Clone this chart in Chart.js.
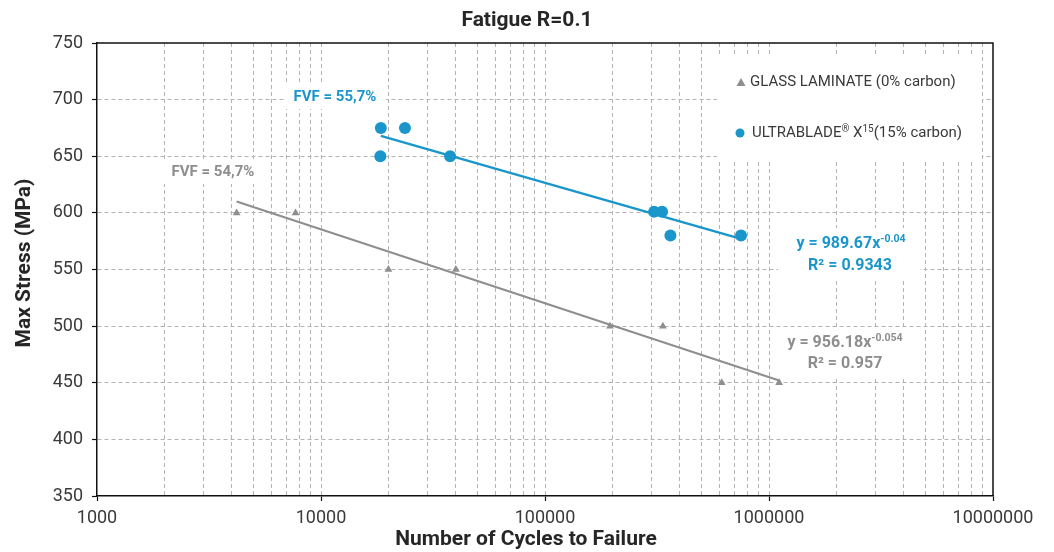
<!DOCTYPE html>
<html>
<head>
<meta charset="utf-8">
<script src="https://cdn.jsdelivr.net/npm/chart.js@4.4.1/dist/chart.umd.min.js"></script>
<style>
html,body{margin:0;padding:0;background:#fff;}
#wrap{width:1054px;height:552px;position:relative;}
</style>
</head>
<body>
<div id="wrap"><canvas id="c" width="1054" height="552"></canvas></div>
<script>
// ---- data ----
const glassCycles = [4200, 7700, 20000, 40000, 195000, 336000, 615000, 1110000];
const glassStress = [600, 600, 550, 550, 500, 500, 450, 450];
const bladeCycles = [18500, 18400, 23700, 37700, 307000, 333000, 363000, 750000];
const bladeStress = [675, 650, 675, 650, 601, 601, 580, 580];
// trendline endpoints (cycles, stress)
const glassTrendCycles = [4200, 1110000];
const glassTrendStress = [610, 452];
const bladeTrendCycles = [18500, 750000];
const bladeTrendStress = [668, 577];
const yTicks = [350, 400, 450, 500, 550, 600, 650, 700, 750];
const xDecades = [1000, 10000, 100000, 1000000, 10000000];

const chartTitle = 'Fatigue R=0.1';
const xTitle = 'Number of Cycles to Failure';
const yTitle = 'Max Stress (MPa)';
const legendGlass = 'GLASS LAMINATE (0% carbon)';
const fvfBlade = 'FVF = 55,7%';
const fvfGlass = 'FVF = 54,7%';

const BLUE = '#1b96cb';
const GRAY = '#8e8e8e';
const FONT = 'Roboto, "Liberation Sans", sans-serif';

const zip = (xs, ys) => xs.map((x, i) => ({x, y: ys[i]}));

function isDecade(v){ const l = Math.log10(v); return Math.abs(l - Math.round(l)) < 1e-9; }

function drawSup(ctx, parts, cx, y, align){
  let total = 0;
  parts.forEach(p => { ctx.font = p.font; p.w = ctx.measureText(p.t).width; total += p.w; });
  let x = align === 'left' ? cx : cx - total / 2;
  parts.forEach(p => { ctx.font = p.font; ctx.textAlign = 'left'; ctx.fillText(p.t, x, y + (p.dy || 0)); x += p.w; });
  return total;
}

const decor = {
  id: 'decor',
  beforeDatasetsDraw(chart){
    const ctx = chart.ctx;
    ctx.save();
    ctx.textBaseline = 'middle';
    ctx.fillStyle = '#fff';
    // legend box
    ctx.fillRect(717, 57, 265, 103);
    // FVF labels
    ctx.fillRect(286, 85, 100, 24);
    ctx.fillRect(163, 160, 101, 24);
    // equation boxes
    ctx.fillRect(778, 228, 142, 52);
    ctx.fillRect(774, 328, 142, 50);

    ctx.textAlign = 'center';
    ctx.font = 'bold 15px ' + FONT;
    ctx.fillStyle = BLUE;
    ctx.fillText(fvfBlade, 335, 97);
    ctx.fillStyle = GRAY;
    ctx.fillText(fvfGlass, 213, 172);

    ctx.fillStyle = BLUE;
    drawSup(ctx, [
      {t: 'y = 989.67x', font: 'bold 16px ' + FONT},
      {t: '-0.04', font: 'bold 10.5px ' + FONT, dy: -5}
    ], 851, 244);
    ctx.font = 'bold 16px ' + FONT; ctx.textAlign = 'center';
    ctx.fillText('R² = 0.9343', 850, 266);

    ctx.fillStyle = GRAY;
    drawSup(ctx, [
      {t: 'y = 956.18x', font: 'bold 16px ' + FONT},
      {t: '-0.054', font: 'bold 10.5px ' + FONT, dy: -5}
    ], 845, 343);
    ctx.font = 'bold 16px ' + FONT; ctx.textAlign = 'center';
    ctx.fillText('R² = 0.957', 845, 364);

    // legend
    ctx.fillStyle = GRAY;
    ctx.beginPath();
    ctx.moveTo(741, 78); ctx.lineTo(745.5, 86); ctx.lineTo(736.5, 86); ctx.closePath(); ctx.fill();
    ctx.fillStyle = '#3a3a3a';
    ctx.textAlign = 'left';
    ctx.font = '15px ' + FONT;
    ctx.fillText(legendGlass, 750, 82);
    ctx.fillStyle = BLUE;
    ctx.beginPath(); ctx.arc(740, 133, 4.5, 0, Math.PI * 2); ctx.fill();
    ctx.fillStyle = '#3a3a3a';
    drawSup(ctx, [
      {t: 'ULTRABLADE', font: '15px ' + FONT},
      {t: '®', font: '10px ' + FONT, dy: -4},
      {t: ' X', font: '15px ' + FONT},
      {t: '15', font: '10px ' + FONT, dy: -4},
      {t: '(15% carbon)', font: '15px ' + FONT}
    ], 752, 133, 'left');
    ctx.restore();
  },
  afterDraw(chart){
    const ctx = chart.ctx, a = chart.chartArea;
    ctx.save();
    ctx.strokeStyle = '#111';
    ctx.lineWidth = 1.5;
    ctx.beginPath();
    ctx.moveTo(a.left, a.top); ctx.lineTo(a.right, a.top); ctx.lineTo(a.right, a.bottom);
    ctx.stroke();
    ctx.fillStyle = '#262626';
    ctx.textAlign = 'center';
    ctx.textBaseline = 'middle';
    ctx.font = 'bold 21px ' + FONT;
    ctx.fillText(chartTitle, 527, 21);
    ctx.fillText(xTitle, 526, 540);
    ctx.translate(25, 263);
    ctx.rotate(-Math.PI / 2);
    ctx.fillText(yTitle, 0, 0);
    ctx.restore();
  }
};

new Chart(document.getElementById('c'), {
  type: 'scatter',
  data: {
    datasets: [
      {label: 'ULTRABLADE', data: zip(bladeCycles, bladeStress), pointStyle: 'circle', pointRadius: 6,
       backgroundColor: BLUE, borderColor: BLUE, borderWidth: 0},
      {label: 'GLASS', data: zip(glassCycles, glassStress), pointStyle: 'triangle', pointRadius: 4.5,
       backgroundColor: GRAY, borderColor: GRAY, borderWidth: 0},
      {type: 'line', label: 'blade trend', data: zip(bladeTrendCycles, bladeTrendStress), showLine: true,
       borderColor: BLUE, borderWidth: 2.5, pointRadius: 0, fill: false},
      {type: 'line', label: 'glass trend', data: zip(glassTrendCycles, glassTrendStress), showLine: true,
       borderColor: GRAY, borderWidth: 2, pointRadius: 0, fill: false}
    ]
  },
  options: {
    responsive: false,
    animation: false,
    devicePixelRatio: 1,
    layout: {padding: {top: 43, right: 61, left: 0, bottom: 0}},
    plugins: {legend: {display: false}, tooltip: {enabled: false}, title: {display: false}},
    scales: {
      x: {
        type: 'logarithmic',
        min: xDecades[0], max: xDecades[xDecades.length - 1],
        afterBuildTicks(scale){
          const t = [];
          for (let i = 0; i < xDecades.length; i++) {
            const d = xDecades[i];
            if (i === xDecades.length - 1) { t.push({value: d}); break; }
            for (let m = 1; m <= 9; m++) t.push({value: d * m});
          }
          scale.ticks = t;
        },
        afterFit(scale){ scale.height = 56; },
        ticks: {
          autoSkip: false, maxRotation: 0, padding: 7,
          color: '#3a3a3a', font: {family: FONT, size: 18},
          callback(v){ return isDecade(v) ? String(v) : ''; }
        },
        grid: {
          color: ctx => (ctx.tick && (ctx.tick.value === xDecades[0] || ctx.tick.value === xDecades[xDecades.length-1])) ? 'rgba(0,0,0,0)' : '#b3b3b3',
          lineWidth: 1, drawTicks: true, tickLength: 5,
          tickColor: ctx => (ctx.tick && isDecade(ctx.tick.value)) ? '#111' : 'rgba(0,0,0,0)',
          tickBorderDash: [], tickWidth: 1.2
        },
        border: {display: true, color: '#111', width: 1.5, dash: [4, 3]}
      },
      y: {
        min: yTicks[0], max: yTicks[yTicks.length - 1],
        afterBuildTicks(scale){ scale.ticks = yTicks.map(v => ({value: v})); },
        afterFit(scale){ scale.width = 97; },
        ticks: {color: '#3a3a3a', font: {family: FONT, size: 18}, padding: 9},
        title: {display: false},
        grid: {
          color: ctx => (ctx.tick && (ctx.tick.value === yTicks[0] || ctx.tick.value === yTicks[yTicks.length-1])) ? 'rgba(0,0,0,0)' : '#b3b3b3',
          lineWidth: 1, drawTicks: true, tickLength: 5, tickColor: '#111', tickBorderDash: [], tickWidth: 1.2
        },
        border: {display: true, color: '#111', width: 1.5, dash: [4, 3]}
      }
    }
  },
  plugins: [decor]
});
</script>
</body>
</html>
